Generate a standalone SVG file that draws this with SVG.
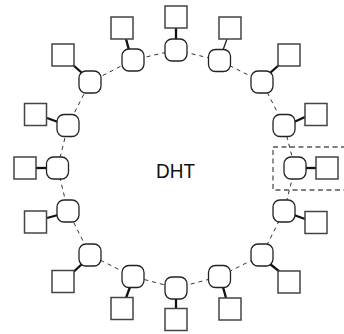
<svg xmlns="http://www.w3.org/2000/svg" width="344" height="334" viewBox="0 0 344 334">
<style>
.ring{stroke:#333;stroke-width:1;stroke-dasharray:4 4;fill:none}
.link{stroke:#111;stroke-width:2.3;fill:none}
.thin{stroke:#222;stroke-width:1.3}
.node{fill:#fff;stroke:#222;stroke-width:1.3}
.peer{fill:#fff;stroke:#444;stroke-width:1.5}
.box{fill:none;stroke:#555;stroke-width:1.3;stroke-dasharray:5 3.5}
.lbl{font-family:"Liberation Sans",Arial,sans-serif;font-size:21px;fill:#111}
</style>
<rect class="box" x="273" y="147" width="80" height="43"/>
<g id="connectors">
<polyline class="ring" points="176,50 219.5,60.5 262,82 284,125.5 295,168 284,211 262,255 219.5,276.5 176,288 133,276.5 90,255 68,211 57.5,168 68,125.5 90,82 133,60 176,50"/>
<line class="link" x1="176" y1="28" x2="176" y2="39"/>
<line class="link thin" x1="227" y1="39" x2="223" y2="50"/>
<line class="link" x1="279" y1="65" x2="270" y2="73"/>
<line class="link" x1="305" y1="117" x2="294" y2="122"/>
<line class="link" x1="316" y1="168" x2="306" y2="168"/>
<line class="link" x1="305" y1="219" x2="294" y2="215"/>
<line class="link" x1="280" y1="272" x2="270" y2="264"/>
<line class="link" x1="226" y1="298" x2="223" y2="287"/>
<line class="link" x1="176" y1="308" x2="176" y2="299"/>
<line class="link" x1="126" y1="298" x2="130" y2="287"/>
<line class="link" x1="68" y1="277" x2="82" y2="264"/>
<line class="link" x1="47" y1="218" x2="58" y2="215"/>
<line class="link" x1="36" y1="168" x2="47" y2="168"/>
<line class="link" x1="47" y1="118" x2="58" y2="122"/>
<line class="link" x1="73" y1="65" x2="82" y2="73"/>
<line class="link" x1="126" y1="39" x2="129" y2="50"/>
</g>
<g id="n0"><rect class="node" x="165" y="39" width="22" height="22" rx="7"/><rect class="peer" x="165" y="6" width="22" height="22"/></g>
<g id="n1"><rect class="node" x="208.5" y="49.5" width="22" height="22" rx="7"/><rect class="peer" x="219" y="17" width="22" height="22"/></g>
<g id="n2"><rect class="node" x="251" y="71" width="22" height="22" rx="7"/><rect class="peer" x="278" y="44" width="22" height="22"/></g>
<g id="n3"><rect class="node" x="273" y="114.5" width="22" height="22" rx="7"/><rect class="peer" x="305" y="103.5" width="22" height="22"/></g>
<g id="n4"><rect class="node" x="284" y="157" width="22" height="22" rx="7"/><rect class="peer" x="316" y="157" width="22" height="22"/></g>
<g id="n5"><rect class="node" x="273" y="200" width="22" height="22" rx="7"/><rect class="peer" x="305" y="211.5" width="22" height="22"/></g>
<g id="n6"><rect class="node" x="251" y="244" width="22" height="22" rx="7"/><rect class="peer" x="278" y="271" width="22" height="22"/></g>
<g id="n7"><rect class="node" x="208.5" y="265.5" width="22" height="22" rx="7"/><rect class="peer" x="219" y="298" width="22" height="22"/></g>
<g id="n8"><rect class="node" x="165" y="277" width="22" height="22" rx="7"/><rect class="peer" x="165" y="308.5" width="22" height="22"/></g>
<g id="n9"><rect class="node" x="122" y="265.5" width="22" height="22" rx="7"/><rect class="peer" x="111" y="297.5" width="22" height="22"/></g>
<g id="n10"><rect class="node" x="79" y="244" width="22" height="22" rx="7"/><rect class="peer" x="52" y="270.5" width="22" height="22"/></g>
<g id="n11"><rect class="node" x="57" y="200" width="22" height="22" rx="7"/><rect class="peer" x="24.5" y="211" width="22" height="22"/></g>
<g id="n12"><rect class="node" x="46.5" y="157" width="22" height="22" rx="7"/><rect class="peer" x="14" y="157" width="22" height="22"/></g>
<g id="n13"><rect class="node" x="57" y="114.5" width="22" height="22" rx="7"/><rect class="peer" x="24.5" y="103.5" width="22" height="22"/></g>
<g id="n14"><rect class="node" x="79" y="71" width="22" height="22" rx="7"/><rect class="peer" x="52" y="44" width="22" height="22"/></g>
<g id="n15"><rect class="node" x="122" y="49" width="22" height="22" rx="7"/><rect class="peer" x="111" y="17" width="22" height="22"/></g>
<g id="label"><text class="lbl" x="156" y="178" textLength="39" lengthAdjust="spacingAndGlyphs">DHT</text></g>
</svg>
